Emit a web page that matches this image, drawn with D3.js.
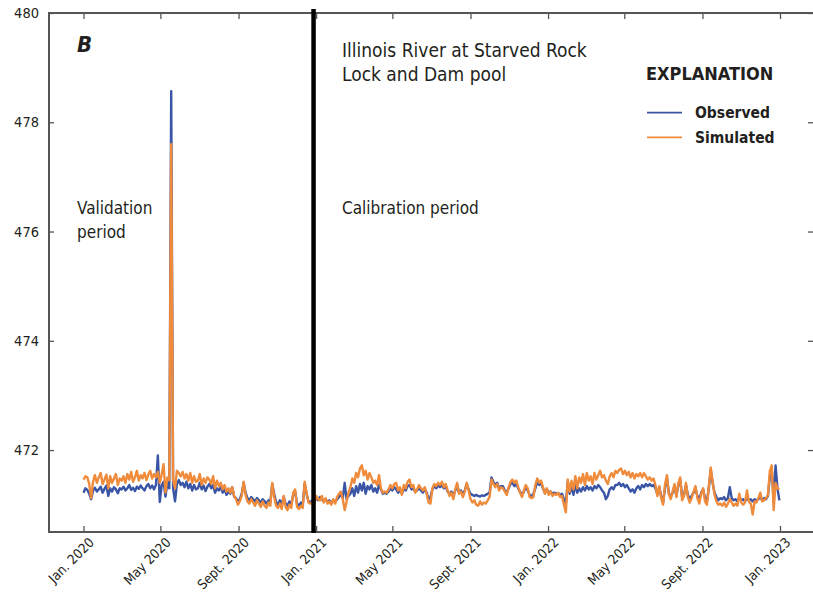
<!DOCTYPE html>
<html>
<head>
<meta charset="utf-8">
<script src="https://cdn.jsdelivr.net/npm/d3@7"></script>
<style>
  html, body { margin: 0; padding: 0; background: #fff; }
  svg { display: block; }
  text { font-family: "Liberation Sans Narrow", "DejaVu Sans Condensed", "Arial Narrow", sans-serif; fill: #231f20; }
</style>
</head>
<body>
<svg id="chart" width="813" height="592"></svg>
<script>
// Pool stage, Illinois River at Starved Rock Lock and Dam, sampled every 3 days from Jan. 1, 2020
const startDate = "2020-01-01";
const stepDays = 3;

const observed = [
  471.22, 471.30, 471.27, 471.20, 471.10, 471.26, 471.31, 471.24, 471.28, 471.33, 471.22, 471.29, 471.35, 471.16, 471.30, 471.24, 471.32, 471.28, 471.21, 471.30,
  471.28, 471.33, 471.26, 471.30, 471.36, 471.27, 471.31, 471.25, 471.33, 471.29, 471.35, 471.30, 471.26, 471.34, 471.38, 471.30, 471.35, 471.28, 471.36, 471.90,
  471.05, 471.35, 471.42, 471.15, 471.40, 471.30, 478.57, 471.30, 471.06, 471.38, 471.45, 471.36, 471.40, 471.32, 471.42, 471.30, 471.38, 471.26, 471.36, 471.28,
  471.30, 471.40, 471.28, 471.35, 471.25, 471.33, 471.38, 471.30, 471.36, 471.22, 471.30, 471.26, 471.32, 471.22, 471.28, 471.18, 471.24, 471.20, 471.32, 471.15,
  471.12, 471.06, 471.10, 471.20, 471.40, 471.22, 471.12, 471.08, 471.14, 471.10, 471.06, 471.12, 471.08, 471.04, 471.10, 471.06, 471.02, 471.08, 471.05, 471.38,
  471.20, 471.05, 471.00, 471.08, 471.02, 471.14, 471.02, 470.98, 471.06, 471.00, 471.18, 471.24, 471.02, 470.98, 471.04, 471.00, 471.38, 471.20, 471.06, 471.04,
  471.08, 471.06, 471.12, 471.08, 471.14, 471.10, 471.06, 471.10, 471.04, 471.08, 471.03, 471.08, 471.05, 471.10, 471.14, 471.18, 471.12, 471.40, 471.10, 471.16,
  471.20, 471.30, 471.16, 471.34, 471.22, 471.38, 471.26, 471.40, 471.20, 471.34, 471.28, 471.36, 471.24, 471.30, 471.22, 471.36, 471.28, 471.20, 471.22, 471.20,
  471.24, 471.30, 471.26, 471.32, 471.28, 471.22, 471.26, 471.20, 471.30, 471.26, 471.34, 471.36, 471.28, 471.30, 471.24, 471.26, 471.30, 471.26, 471.22, 471.28,
  471.22, 471.10, 471.14, 471.28, 471.34, 471.30, 471.36, 471.32, 471.36, 471.30, 471.34, 471.24, 471.20, 471.24, 471.16, 471.26, 471.36, 471.22, 471.26, 471.20,
  471.26, 471.38, 471.28, 471.20, 471.18, 471.16, 471.18, 471.16, 471.15, 471.17, 471.16, 471.18, 471.20, 471.22, 471.50, 471.42, 471.36, 471.40, 471.30, 471.34,
  471.34, 471.26, 471.22, 471.30, 471.38, 471.40, 471.34, 471.38, 471.30, 471.24, 471.18, 471.24, 471.32, 471.26, 471.18, 471.16, 471.20, 471.30, 471.42, 471.36,
  471.40, 471.30, 471.22, 471.28, 471.22, 471.24, 471.20, 471.22, 471.20, 471.21, 471.18, 471.20, 471.10, 471.02, 471.42, 471.20, 471.34, 471.18, 471.38, 471.22,
  471.30, 471.24, 471.32, 471.26, 471.34, 471.28, 471.32, 471.26, 471.34, 471.30, 471.36, 471.32, 471.26, 471.22, 471.10, 471.16, 471.28, 471.32, 471.28, 471.36,
  471.36, 471.40, 471.34, 471.38, 471.32, 471.36, 471.30, 471.24, 471.28, 471.22, 471.30, 471.34, 471.28, 471.36, 471.32, 471.38, 471.34, 471.38, 471.34, 471.36,
  471.30, 471.20, 471.32, 471.16, 471.04, 471.30, 471.50, 471.22, 471.14, 471.22, 471.34, 471.16, 471.36, 471.46, 471.14, 471.18, 471.36, 471.18, 471.10, 471.16,
  471.22, 471.30, 471.16, 471.10, 471.22, 471.28, 471.12, 471.06, 471.30, 471.64, 471.40, 471.22, 471.14, 471.08, 471.12, 471.10, 471.14, 471.08, 471.12, 471.32,
  471.12, 471.08, 471.10, 471.06, 471.14, 471.08, 471.10, 471.06, 471.12, 471.08, 471.10, 471.06, 471.10, 471.08, 471.10, 471.14, 471.08, 471.12, 471.10, 471.16,
  471.50, 471.66, 471.06, 471.72, 471.30, 471.08
];

const simulated = [
  471.46, 471.52, 471.50, 471.38, 471.12, 471.42, 471.54, 471.40, 471.50, 471.58, 471.38, 471.46, 471.55, 471.30, 471.52, 471.40, 471.48, 471.56, 471.36, 471.48,
  471.44, 471.52, 471.40, 471.56, 471.46, 471.60, 471.42, 471.50, 471.62, 471.44, 471.54, 471.48, 471.58, 471.45, 471.55, 471.62, 471.48, 471.56, 471.50, 471.60,
  471.40, 471.55, 471.74, 471.22, 471.50, 471.45, 477.60, 471.45, 471.30, 471.62, 471.58, 471.52, 471.60, 471.48, 471.56, 471.44, 471.58, 471.40, 471.52, 471.42,
  471.44, 471.56, 471.36, 471.48, 471.40, 471.50, 471.46, 471.38, 471.52, 471.30, 471.44, 471.34, 471.40, 471.28, 471.36, 471.24, 471.30, 471.22, 471.32, 471.16,
  471.10, 471.00, 471.06, 471.16, 471.42, 471.18, 471.06, 471.02, 471.10, 471.04, 470.98, 471.08, 471.02, 470.96, 471.06, 470.98, 470.94, 471.04, 470.98, 471.40,
  471.15, 470.98, 470.94, 471.02, 470.92, 471.16, 470.96, 470.90, 471.00, 470.94, 471.22, 471.28, 470.96, 470.92, 470.98, 470.94, 471.42, 471.22, 471.04, 471.02,
  471.04, 471.02, 471.16, 471.10, 471.08, 471.16, 471.04, 471.12, 471.02, 471.06, 471.00, 471.10, 471.02, 471.14, 471.20, 471.24, 471.10, 470.90, 471.06, 471.22,
  471.32, 471.48, 471.40, 471.58, 471.50, 471.66, 471.72, 471.54, 471.62, 471.46, 471.58, 471.50, 471.40, 471.44, 471.36, 471.54, 471.30, 471.22, 471.24, 471.22,
  471.28, 471.36, 471.30, 471.38, 471.40, 471.26, 471.32, 471.18, 471.36, 471.30, 471.42, 471.46, 471.32, 471.36, 471.22, 471.28, 471.36, 471.30, 471.26, 471.32,
  471.20, 471.04, 471.02, 471.30, 471.38, 471.34, 471.40, 471.36, 471.42, 471.32, 471.38, 471.26, 471.16, 471.22, 471.10, 471.28, 471.40, 471.20, 471.24, 471.14,
  471.24, 471.40, 471.26, 471.10, 471.04, 471.08, 471.00, 470.98, 471.06, 471.00, 471.04, 471.02, 471.08, 471.14, 471.46, 471.38, 471.32, 471.38, 471.26, 471.32,
  471.30, 471.24, 471.18, 471.32, 471.42, 471.46, 471.40, 471.44, 471.32, 471.22, 471.14, 471.26, 471.36, 471.30, 471.14, 471.12, 471.14, 471.36, 471.48, 471.40,
  471.44, 471.32, 471.20, 471.30, 471.18, 471.24, 471.16, 471.20, 471.18, 471.22, 471.14, 471.16, 471.00, 470.86, 471.46, 471.24, 471.44, 471.28, 471.52, 471.30,
  471.50, 471.40, 471.56, 471.36, 471.58, 471.44, 471.52, 471.38, 471.58, 471.46, 471.54, 471.62, 471.50, 471.54, 471.44, 471.38, 471.52, 471.58, 471.50, 471.62,
  471.58, 471.64, 471.66, 471.56, 471.62, 471.54, 471.60, 471.50, 471.58, 471.48, 471.56, 471.52, 471.58, 471.50, 471.58, 471.52, 471.46, 471.50, 471.44, 471.48,
  471.36, 471.16, 471.34, 471.12, 471.00, 471.36, 471.54, 471.20, 471.10, 471.24, 471.38, 471.14, 471.40, 471.50, 471.08, 471.16, 471.40, 471.14, 471.04, 471.12,
  471.24, 471.34, 471.12, 471.02, 471.20, 471.30, 471.06, 471.00, 471.34, 471.68, 471.42, 471.18, 471.06, 471.00, 471.02, 470.98, 471.04, 470.96, 471.02, 471.10,
  471.04, 470.98, 471.02, 470.98, 471.20, 471.04, 471.00, 471.04, 471.26, 471.06, 471.02, 470.82, 471.06, 471.04, 471.12, 471.22, 471.06, 471.08, 471.12, 471.18,
  471.62, 471.72, 470.90, 471.40, 471.30, 471.28
];

// Division between the validation and calibration periods
const periodBreak = "2020-12-28";

const tickDates = ["2020-01-01", "2020-05-01", "2020-09-01", "2021-01-01", "2021-05-01", "2021-09-01",
                   "2022-01-01", "2022-05-01", "2022-09-01", "2023-01-01"];
const tickLabels = ["Jan. 2020", "May 2020", "Sept. 2020", "Jan. 2021", "May 2021", "Sept. 2021",
                    "Jan. 2022", "May 2022", "Sept. 2022", "Jan. 2023"];
const yTicks = [472, 474, 476, 478, 480];

const seriesNames = ["Observed", "Simulated"];
const seriesColors = ["#3a55a5", "#ef8b3b"];

const parse = d3.timeParse("%Y-%m-%d");
const t0 = parse(startDate);
const dates = observed.map((_, i) => d3.timeDay.offset(t0, i * stepDays));
const tickDateObjs = tickDates.map(parse);

const svg = d3.select("#chart");
const plot = { left: 49, right: 814, top: 13, bottom: 532 };

const x = d3.scaleTime()
  .domain([parse("2020-01-01"), parse("2023-01-01")])
  .range([83.5, 780]);
const y = d3.scaleLinear().domain([470.5, 480]).range([plot.bottom, plot.top]);

const axisColor = "#555";

// Frame with inward ticks on all four sides
const gBottom = svg.append("g").attr("transform", `translate(0,${plot.bottom})`)
  .call(d3.axisBottom(x).tickValues(tickDateObjs).tickSize(-6).tickFormat(""));
const gTop = svg.append("g").attr("transform", `translate(0,${plot.top})`)
  .call(d3.axisTop(x).tickValues(tickDateObjs).tickSize(-6).tickFormat(""));
const gLeft = svg.append("g").attr("transform", `translate(${plot.left},0)`)
  .call(d3.axisLeft(y).tickValues(yTicks).tickSize(-5).tickPadding(10).tickFormat(d3.format("d")));
const gRight = svg.append("g").attr("transform", `translate(${plot.right},0)`)
  .call(d3.axisRight(y).tickValues(yTicks).tickSize(-6).tickFormat(""));

[gBottom, gTop, gLeft, gRight].forEach(g => {
  g.attr("font-family", null);
  g.select(".domain").remove();
  g.selectAll(".tick line").attr("stroke", axisColor).attr("stroke-width", 1.3);
});
gLeft.selectAll(".tick text").attr("font-size", 14.5).attr("fill", "#231f20");

svg.append("path")
  .attr("d", `M${plot.right},${plot.top}H${plot.left}V${plot.bottom}H${plot.right}`)
  .attr("fill", "none").attr("stroke", axisColor).attr("stroke-width", 2);

// Rotated date labels
svg.append("g").selectAll("text")
  .data(tickDateObjs)
  .join("text")
  .attr("transform", (d) => `translate(${x(d) + 8},${plot.bottom + 8}) rotate(-45)`)
  .attr("text-anchor", "end")
  .attr("dy", "0.35em")
  .attr("font-size", 13.5)
  .text((d, i) => tickLabels[i]);

// Series lines
const line = (vals) => d3.line()
  .x((d, i) => x(dates[i]))
  .y((d) => y(d))(vals);

svg.append("path").attr("d", line(observed))
  .attr("fill", "none").attr("stroke", seriesColors[0]).attr("stroke-width", 2.4)
  .attr("stroke-linejoin", "round");
svg.append("path").attr("d", line(simulated))
  .attr("fill", "none").attr("stroke", seriesColors[1]).attr("stroke-width", 2.4)
  .attr("stroke-linejoin", "round");

// Period boundary
const xBreak = x(parse(periodBreak));
svg.append("line")
  .attr("x1", xBreak).attr("x2", xBreak)
  .attr("y1", plot.top - 4).attr("y2", plot.bottom + 1)
  .attr("stroke", "#000").attr("stroke-width", 4.5);

// Panel letter
svg.append("text").attr("x", 77).attr("y", 52)
  .attr("font-size", 22).attr("font-weight", "bold").attr("font-style", "italic")
  .text("B");

// Annotations
const note = (txt, xx, yy, size) => svg.append("text")
  .attr("x", xx).attr("y", yy).attr("font-size", size).text(txt);
note("Illinois River at Starved Rock", 342, 57, 19);
note("Lock and Dam pool", 342, 81, 19);
note("Validation", 77, 214, 17);
note("period", 77, 238, 17);
note("Calibration period", 342, 214, 17);

// Legend
svg.append("text").attr("x", 646).attr("y", 80)
  .attr("font-size", 18).attr("font-weight", "bold").text("EXPLANATION");
const legend = svg.append("g");
seriesNames.forEach((name, i) => {
  const ly = 112.7 + i * 24.6;
  legend.append("line").attr("x1", 647).attr("x2", 682).attr("y1", ly).attr("y2", ly)
    .attr("stroke", seriesColors[i]).attr("stroke-width", 1.8);
  legend.append("text").attr("x", 695).attr("y", ly + 5.5)
    .attr("font-size", 15.5).attr("font-weight", "bold").text(name);
});
</script>
</body>
</html>
